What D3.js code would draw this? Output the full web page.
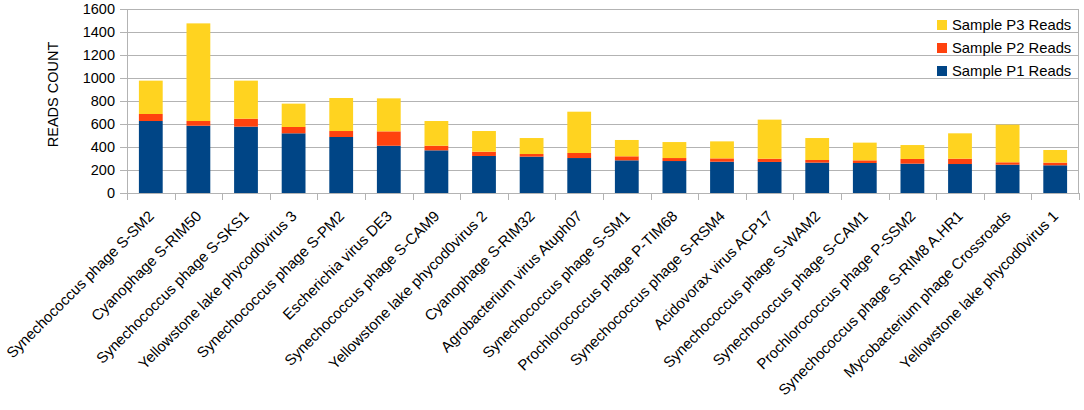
<!DOCTYPE html>
<html lang="en">
<head>
  <meta charset="UTF-8">
  <title>Reads count per phage</title>
  <script src="https://d3js.org/d3.v7.min.js"></script>
  <style>
    body { margin: 0; background: #fff; }
    text { font-family: "Liberation Sans", Arial, sans-serif; fill: #000; }
  </style>
</head>
<body>
<div id="chart"></div>
<script>
// categories (x axis)
var phages = [
  "Synechococcus phage S-SM2", "Cyanophage S-RIM50", "Synechococcus phage S-SKS1",
  "Yellowstone lake phycod0virus 3", "Synechococcus phage S-PM2", "Escherichia virus DE3",
  "Synechococcus phage S-CAM9", "Yellowstone lake phycod0virus 2", "Cyanophage S-RIM32",
  "Agrobacterium virus Atuph07", "Synechococcus phage S-SM1", "Prochlorococcus phage P-TIM68",
  "Synechococcus phage S-RSM4", "Acidovorax virus ACP17", "Synechococcus phage S-WAM2",
  "Synechococcus phage S-CAM1", "Prochlorococcus phage P-SSM2", "Synechococcus phage S-RIM8 A.HR1",
  "Mycobacterium phage Crossroads", "Yellowstone lake phycod0virus 1"
];

// series values
var p1 = [626, 585, 577, 519, 487, 411, 371, 322, 316, 304, 284, 278, 272, 270, 264, 261, 255, 252, 246, 241];
var p2 = [61, 41, 69, 55, 52, 125, 40, 37, 23, 44, 35, 26, 29, 28, 23, 23, 41, 46, 21, 23];
var p3 = [290, 849, 331, 203, 287, 287, 215, 180, 139, 359, 142, 139, 148, 340, 191, 154, 121, 221, 327, 110];

var seriesNames = ["Sample P1 Reads", "Sample P2 Reads", "Sample P3 Reads"];
var colors = ["#004586", "#ff420e", "#ffd320"];
var yTicks = [0, 200, 400, 600, 800, 1000, 1200, 1400, 1600];

var W = 1084, H = 410;
var margin = {top: 9, right: 5, bottom: 217, left: 127};
var width = W - margin.left - margin.right,
    height = H - margin.top - margin.bottom;

var rows = phages.map(function(name, i) {
  return {name: name, p1: p1[i], p2: p2[i], p3: p3[i]};
});
var stack = d3.stack().keys(["p1", "p2", "p3"])(rows);

var svg = d3.select("#chart").append("svg")
  .attr("width", W).attr("height", H);
var g = svg.append("g")
  .attr("transform", "translate(" + margin.left + "," + margin.top + ")");

var x = d3.scaleBand().domain(phages).range([0, width]).paddingInner(0.5).paddingOuter(0.25);
var y = d3.scaleLinear().domain([0, 1600]).range([height, 0]);

// grid lines
g.selectAll(".grid").data(yTicks).enter().append("line")
  .attr("x1", -7).attr("x2", width)
  .attr("y1", function(d) { return y(d) + 0.5; })
  .attr("y2", function(d) { return y(d) + 0.5; })
  .attr("stroke", "#b3b3b3").attr("stroke-width", 1);

// right frame line
g.append("line")
  .attr("x1", width - 0.5).attr("x2", width - 0.5)
  .attr("y1", 0).attr("y2", height)
  .attr("stroke", "#b3b3b3");

// y labels
g.selectAll(".ylab").data(yTicks).enter().append("text")
  .attr("x", -12).attr("y", function(d) { return y(d); })
  .attr("dy", "0.35em").attr("text-anchor", "end")
  .style("font-size", "14.5px")
  .text(function(d) { return d; });

// bars
g.selectAll(".series").data(stack).enter().append("g")
  .attr("fill", function(d, i) { return colors[i]; })
  .selectAll("rect").data(function(d) { return d; }).enter().append("rect")
  .attr("x", function(d) { return x(d.data.name); })
  .attr("width", x.bandwidth())
  .attr("y", function(d) { return y(d[1]); })
  .attr("height", function(d) { return y(d[0]) - y(d[1]); });

// x axis line + ticks
var step = x.step();
g.append("line")
  .attr("x1", 0).attr("x2", width)
  .attr("y1", height + 0.5).attr("y2", height + 0.5)
  .attr("stroke", "#b3b3b3");
g.append("line")
  .attr("x1", 0.5).attr("x2", 0.5)
  .attr("y1", 0).attr("y2", height + 7)
  .attr("stroke", "#b3b3b3");
g.selectAll(".xtick").data(d3.range(phages.length + 1)).enter().append("line")
  .attr("x1", function(i) { return Math.round(i * step) + 0.5; })
  .attr("x2", function(i) { return Math.round(i * step) + 0.5; })
  .attr("y1", height).attr("y2", height + 7)
  .attr("stroke", "#b3b3b3");

// x labels
g.selectAll(".xlab").data(phages).enter().append("text")
  .attr("transform", function(d) {
    return "translate(" + (x(d) + x.bandwidth() / 2 + 4) + "," + (height + 24) + ") rotate(-45)";
  })
  .attr("text-anchor", "end")
  .style("font-size", "15px")
  .text(function(d) { return d; });

// y title
svg.append("text")
  .attr("transform", "translate(58,94.5) rotate(-90)")
  .attr("text-anchor", "middle")
  .style("font-size", "14.5px")
  .text("READS COUNT");

// legend
var legend = svg.append("g").attr("transform", "translate(937,0)");
var order = [2, 1, 0];
order.forEach(function(s, k) {
  var cy = 25 + k * 23;
  legend.append("rect").attr("x", 0).attr("y", cy - 5).attr("width", 10).attr("height", 10)
    .attr("fill", colors[s]);
  legend.append("text").attr("x", 15).attr("y", cy).attr("dy", "0.35em")
    .style("font-size", "14.8px").text(seriesNames[s]);
});
</script>
</body>
</html>
